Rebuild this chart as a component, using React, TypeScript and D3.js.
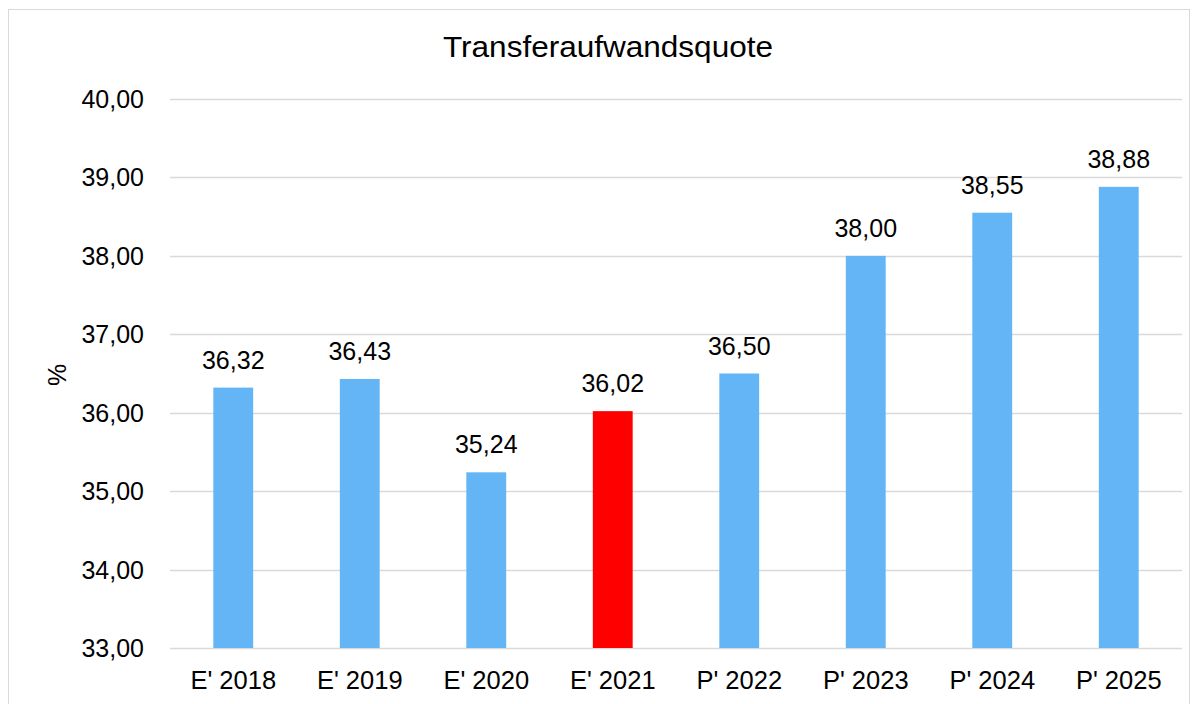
import { useEffect, useRef } from "react";
import * as d3 from "d3";

const categories = ["E' 2018", "E' 2019", "E' 2020", "E' 2021", "P' 2022", "P' 2023", "P' 2024", "P' 2025"];
const values = [36.32, 36.43, 35.24, 36.02, 36.5, 38.0, 38.55, 38.88];
const highlighted = ["E' 2021"];
const yTicks = [33, 34, 35, 36, 37, 38, 39, 40];

const App = () => {
  const ref = useRef<SVGSVGElement | null>(null);

  useEffect(() => {
    if (!ref.current) return;
    const W = 1198;
    const H = 704;
    const margin = { top: 99, left: 170 };
    const plotRight = 1182;
    const plotBottom = 648;
    const font = "'Liberation Sans', Arial, sans-serif";
    const fmt = (d: number) => d3.format(".2f")(d).replace(".", ",");

    const svg = d3.select(ref.current).html("").attr("width", W).attr("height", H);

    // Chart frame
    svg.append("rect")
      .attr("x", 8.5).attr("y", 9.5)
      .attr("width", W - 17).attr("height", H)
      .attr("fill", "white").attr("stroke", "#d9d9d9").attr("stroke-width", 1);

    const x = d3.scaleBand<string>()
      .domain(categories)
      .range([margin.left, plotRight])
      .paddingInner(0.685)
      .paddingOuter(0.3425);

    const y = d3.scaleLinear().domain([33, 40]).range([plotBottom, margin.top]);

    // Grid
    svg.append("g")
      .selectAll("line")
      .data(yTicks)
      .join("line")
      .attr("x1", margin.left).attr("x2", plotRight)
      .attr("y1", (d) => Math.round(y(d)) + 0.5).attr("y2", (d) => Math.round(y(d)) + 0.5)
      .attr("stroke", "#d9d9d9").attr("stroke-width", 1.5);

    // Y tick labels
    svg.append("g")
      .selectAll("text")
      .data(yTicks)
      .join("text")
      .attr("x", 144).attr("y", (d) => y(d))
      .attr("dy", "0.36em")
      .attr("text-anchor", "end")
      .style("font-family", font).style("font-size", "25px").attr("fill", "#000")
      .text(fmt);

    // Bars
    svg.append("g")
      .selectAll("rect")
      .data(values)
      .join("rect")
      .attr("x", (_, i) => x(categories[i])!)
      .attr("width", x.bandwidth())
      .attr("y", (d) => y(d))
      .attr("height", (d) => plotBottom - y(d))
      .attr("fill", (_, i) => (highlighted.includes(categories[i]) ? "#ff0000" : "#63b5f6"));

    // Value labels
    svg.append("g")
      .selectAll("text")
      .data(values)
      .join("text")
      .attr("x", (_, i) => x(categories[i])! + x.bandwidth() / 2)
      .attr("y", (d) => y(d) - 19)
      .attr("text-anchor", "middle")
      .style("font-family", font).style("font-size", "25px").attr("fill", "#000")
      .text(fmt);

    // X labels
    svg.append("g")
      .selectAll("text")
      .data(categories)
      .join("text")
      .attr("x", (d) => x(d)! + x.bandwidth() / 2)
      .attr("y", 689)
      .attr("text-anchor", "middle")
      .style("font-family", font).style("font-size", "25.5px").attr("fill", "#000")
      .text((d) => d);

    // Title
    svg.append("text")
      .attr("x", 608).attr("y", 57)
      .attr("text-anchor", "middle")
      .attr("textLength", 330)
      .attr("lengthAdjust", "spacingAndGlyphs")
      .style("font-family", font).style("font-size", "30px").attr("fill", "#000")
      .text("Transferaufwandsquote");

    // Y axis title
    svg.append("text")
      .attr("transform", `translate(66,375) rotate(-90)`)
      .attr("text-anchor", "middle")
      .style("font-family", font).style("font-size", "25px").attr("fill", "#000")
      .text("%");
  }, []);

  return (
    <svg ref={ref} style={{ position: "absolute", left: 0, top: 0, display: "block" }}></svg>
  );
};

export default App;
